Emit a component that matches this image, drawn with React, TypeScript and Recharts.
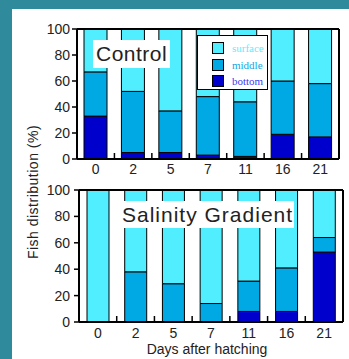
import { BarChart, Bar, XAxis, YAxis, ReferenceLine, Legend } from 'recharts';

// days after hatching
const days = ['0', '2', '5', '7', '11', '16', '21'];

// control tank, % of fish per layer
const controlBottom = [33, 5, 5, 3, 2, 19, 17];
const controlMiddle = [34, 47, 32, 45, 42, 41, 41];
const controlSurface = [33, 48, 63, 52, 56, 40, 42];

// salinity gradient tank
const salinityBottom = [0, 0, 0, 0, 8, 8, 53];
const salinityMiddle = [0, 38, 29, 14, 23, 33, 11];
const salinitySurface = [100, 62, 71, 86, 69, 59, 36];

const yTicks = [0, 20, 40, 60, 80, 100];

const layers = [
  { key: 'surface', fill: '#50eeff', text: '#5ceeff' },
  { key: 'middle', fill: '#00a8e4', text: '#0aa8e4' },
  { key: 'bottom', fill: '#0000cc', text: '#3a3af0' },
];

const FONT = '"Liberation Sans", Arial, Helvetica, sans-serif';

function toRows(bottom: number[], middle: number[], surface: number[]) {
  return days.map((d, i) => ({ day: d, bottom: bottom[i], middle: middle[i], surface: surface[i] }));
}

const controlData = toRows(controlBottom, controlMiddle, controlSurface);
const salinityData = toRows(salinityBottom, salinityMiddle, salinitySurface);

function makeXTick(bandWidth: number, labelDy: number) {
  return (props: any) => {
    const { x, y, payload, index } = props;
    return (
      <g>
        {index > 0 && (
          <line x1={x - bandWidth / 2} x2={x - bandWidth / 2} y1={y} y2={y - 6} stroke="#000" strokeWidth={1.5} />
        )}
        <text x={x} y={y + labelDy} textAnchor="middle" fontFamily={FONT} fontSize={14} fill="#222">
          {payload.value}
        </text>
      </g>
    );
  };
}

function RightTick(props: any) {
  const { x, y } = props;
  return <line x1={x} x2={x - 5} y1={y} y2={y} stroke="#000" strokeWidth={1.5} />;
}

function LegendBox() {
  return (
    <div
      style={{
        width: 71,
        height: 55,
        boxSizing: 'border-box',
        border: '1px solid #000',
        background: '#fff',
        position: 'relative',
      }}
    >
      {layers.map((l, i) => (
        <div key={l.key} style={{ position: 'absolute', left: 14, top: 6 + i * 16.5, display: 'flex', alignItems: 'center' }}>
          <div style={{ width: 10, height: 10, background: l.fill, border: '1px solid #000' }} />
          <span
            style={{
              marginLeft: 8,
              fontFamily: '"Liberation Serif", "Times New Roman", serif',
              fontSize: 11,
              color: l.text,
              lineHeight: '12px',
            }}
          >
            {l.key}
          </span>
        </div>
      ))}
    </div>
  );
}

interface PanelProps {
  data: any[];
  width: number;
  height: number;
  top: number;
  leftWidth: number;
  rightWidth: number;
  xHeight: number;
  barSize: number;
  tickMargin: number;
  labelDy: number;
  legend?: boolean;
}

function Panel({ data, width, height, top, leftWidth, rightWidth, xHeight, barSize, tickMargin, labelDy, legend }: PanelProps) {
  const plotWidth = width - leftWidth - rightWidth;
  const bandWidth = plotWidth / days.length;
  return (
    <BarChart width={width} height={height} data={data} margin={{ top, right: 0, bottom: 0, left: 0 }} barCategoryGap="19%">
      <XAxis
        dataKey="day"
        height={xHeight}
        axisLine={{ stroke: '#000', strokeWidth: 2 }}
        tickLine={false}
        tickSize={0}
        tickMargin={0}
        interval={0}
        tick={makeXTick(bandWidth, labelDy)}
      />
      <YAxis
        yAxisId="left"
        width={leftWidth}
        domain={[0, 100]}
        ticks={yTicks}
        interval={0}
        axisLine={{ stroke: '#000', strokeWidth: 2 }}
        tickLine={{ stroke: '#000', strokeWidth: 1.5 }}
        tickSize={5}
        tickMargin={tickMargin}
        tick={{ fontFamily: FONT, fontSize: 14, fill: '#222' }}
      />
      <YAxis
        yAxisId="right"
        orientation="right"
        width={rightWidth}
        domain={[0, 100]}
        ticks={yTicks.slice(1, -1)}
        interval={0}
        axisLine={{ stroke: '#000', strokeWidth: 2 }}
        tickLine={false}
        tickSize={0}
        tickMargin={0}
        tick={<RightTick />}
      />
      <ReferenceLine yAxisId="left" y={100} stroke="#000" strokeWidth={2} />
      {layers
        .slice()
        .reverse()
        .map((l) => (
          <Bar
            key={l.key}
            yAxisId="left"
            dataKey={l.key}
            stackId="a"
            fill={l.fill}
            stroke="#000"
            strokeWidth={1}
            barSize={barSize}
            isAnimationActive={false}
          />
        ))}
      {legend && (
        <Legend
          layout="vertical"
          align="center"
          verticalAlign="middle"
          wrapperStyle={{ left: 197, top: 35, width: 71, height: 55 }}
          content={() => <LegendBox />}
        />
      )}
    </BarChart>
  );
}

const boxLabel = {
  position: 'absolute' as const,
  background: '#fff',
  fontFamily: FONT,
  fontSize: 21,
  color: '#222',
  whiteSpace: 'nowrap' as const,
  boxSizing: 'border-box' as const,
};

export default function App() {
  return (
    <div style={{ position: 'absolute', left: 0, top: 0, width: 349, height: 359, background: '#2f8a9b', overflow: 'hidden' }}>
      <div style={{ position: 'absolute', left: 12, top: 9, width: 337, height: 350, background: '#fff' }} />
      <div style={{ position: 'absolute', left: 0, top: 0 }}>
        <Panel
          data={controlData}
          width={349}
          height={180}
          top={29}
          leftWidth={77}
          rightWidth={10}
          xHeight={21}
          barSize={23}
          tickMargin={2}
          labelDy={15}
          legend
        />
      </div>
      <div style={{ position: 'absolute', left: 0, top: 175 }}>
        <Panel
          data={salinityData}
          width={349}
          height={184}
          top={15}
          leftWidth={79}
          rightWidth={6}
          xHeight={37}
          barSize={22}
          tickMargin={4}
          labelDy={16}
        />
      </div>
      <div style={{ ...boxLabel, left: 93, top: 40, width: 77, height: 28, lineHeight: '28px', paddingLeft: 3, letterSpacing: 0.5 }}>
        Control
      </div>
      <div style={{ ...boxLabel, left: 120, top: 201, width: 174, height: 27, lineHeight: '27px', paddingLeft: 2, letterSpacing: 1 }}>
        Salinity Gradient
      </div>
      <div
        style={{
          position: 'absolute',
          left: 33 - 100,
          top: 192 - 10,
          width: 200,
          height: 20,
          lineHeight: '20px',
          textAlign: 'center',
          transform: 'rotate(-90deg)',
          fontFamily: FONT,
          fontSize: 14,
          letterSpacing: 0.5,
          color: '#222',
          whiteSpace: 'nowrap',
        }}
      >
        Fish distribution (%)
      </div>
      <div
        style={{
          position: 'absolute',
          left: 107,
          top: 340,
          width: 200,
          lineHeight: '18px',
          textAlign: 'center',
          fontFamily: FONT,
          fontSize: 14,
          color: '#222',
          whiteSpace: 'nowrap',
        }}
      >
        Days after hatching
      </div>
    </div>
  );
}
